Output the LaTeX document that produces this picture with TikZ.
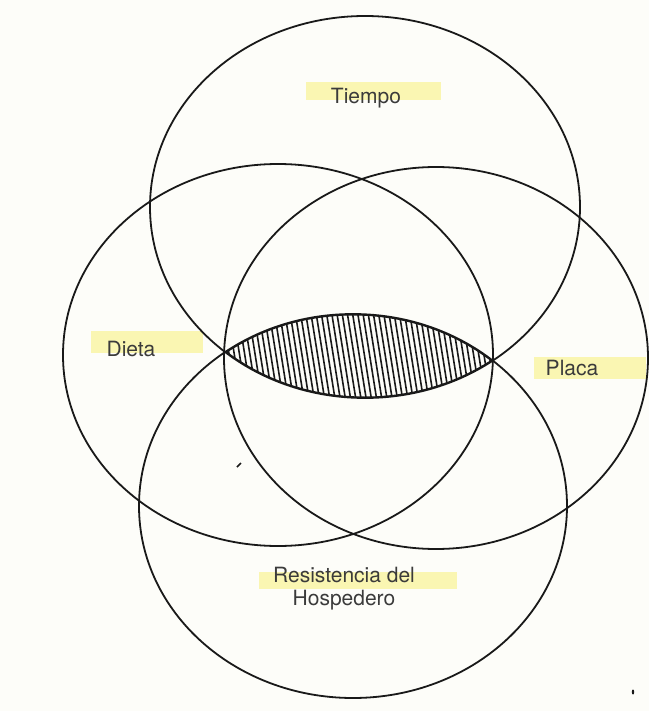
\documentclass[tikz,border=0pt]{standalone}
\usepackage{fontspec}
\setmainfont{TeX Gyre Heros}
\usepackage{xcolor}
\usepackage{tikz}

\definecolor{paper}{RGB}{253,253,249}
\definecolor{hilite}{RGB}{250,246,178}
\definecolor{ink}{RGB}{25,25,25}

\begin{document}
\begin{tikzpicture}[x=1pt, y=-1pt,
  every node/.style={font=\fontsize{21}{23}\selectfont, text=ink!85, anchor=base},
  ring/.style={draw=ink, line width=1.8pt},
  lensline/.style={draw=ink, line width=3pt},
  hatchline/.style={draw=ink, line width=1.6pt},
  hilitebox/.style={fill=hilite}]
\useasboundingbox (0,0) rectangle (649,711);
\fill[paper] (0,0) rectangle (649,711);

\fill[hilitebox] (306,82) rectangle (441,100);
\fill[hilitebox] (91,331) rectangle (203,353);
\fill[hilitebox] (534,357) rectangle (646,379);
\fill[hilitebox] (259,572) rectangle (457,589);

\coordinate (tiempo) at (365,207);
\coordinate (dieta) at (278,355);
\coordinate (placa) at (436,358);
\coordinate (huesped) at (353,506);

\begin{scope}
\clip (tiempo) ellipse [x radius=215pt, y radius=191pt];
\clip (huesped) ellipse [x radius=214pt, y radius=192pt];
\foreach \x in {190,195.2,...,510} \draw[hatchline] (\x,305) -- ++(16,100);
\draw[lensline] (tiempo) ellipse [x radius=215pt, y radius=191pt];
\draw[lensline] (huesped) ellipse [x radius=214pt, y radius=192pt];
\end{scope}

\draw[ring] (tiempo) ellipse [x radius=215pt, y radius=191pt];
\draw[ring] (dieta) ellipse [x radius=215pt, y radius=191pt];
\draw[ring] (placa) ellipse [x radius=212pt, y radius=191pt];
\draw[ring] (huesped) ellipse [x radius=214pt, y radius=192pt];

\node (tiempoL) at (366,104) {Tiempo};
\node (dietaL) at (131,356) {Dieta};
\node (placaL) at (572,375) {Placa};
\node[align=center] (huespedL) at (344,605) {Resistencia del\\Hospedero};

\draw[ink, line width=1.5pt] (237,467) -- (241,463);
\fill[ink] (633,692) ellipse [x radius=1.2pt, y radius=2.5pt];
\end{tikzpicture}
\end{document}
